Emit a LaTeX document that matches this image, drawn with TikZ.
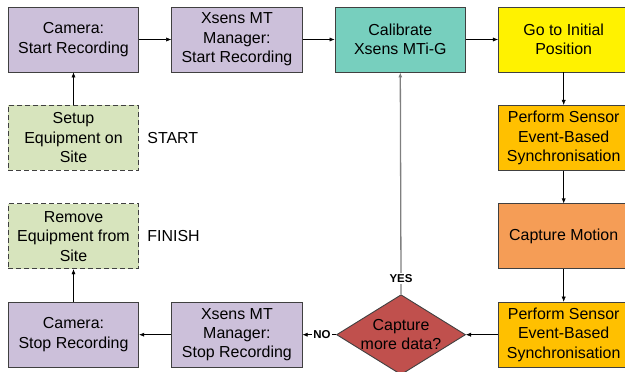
\documentclass[tikz,border=0pt]{standalone}
\usepackage{fontspec}
\setmainfont{Liberation Sans}
\usetikzlibrary{positioning,arrows.meta,shapes.geometric}
\definecolor{camlilac}{HTML}{CCC0DA}
\definecolor{calteal}{HTML}{77CFBE}
\definecolor{syncorange}{HTML}{FFC000}
\definecolor{motionorange}{HTML}{F59D56}
\definecolor{decred}{HTML}{C0504D}
\definecolor{sitegreen}{HTML}{D7E4BD}
\definecolor{edgegray}{HTML}{404040}
\definecolor{yesgray}{HTML}{7F7F7F}
\tikzset{
  stepbox/.style={draw=edgegray,line width=0.9pt,minimum width=130.5bp,minimum height=65bp,
    inner sep=0pt,align=center,font=\fontsize{16}{19.5}\selectfont},
  sitebox/.style={stepbox,dash pattern=on 5bp off 3bp,fill=sitegreen},
  decision/.style={diamond,draw=edgegray,line width=0.9pt,fill=decred,aspect=1.6,inner sep=-1.5bp,
    minimum width=129bp,minimum height=80bp,align=center,font=\fontsize{16}{19.5}\selectfont},
  tag/.style={font=\fontsize{16}{19.5}\selectfont,inner sep=0pt},
  answer/.style={font=\fontsize{11.5}{13}\selectfont\bfseries,fill=white,inner sep=1.5pt},
}
\begin{document}
\begin{tikzpicture}[>={Latex[length=5bp,width=4bp]},node distance=32.5bp and 32bp]
\useasboundingbox (-73.5bp,39.5bp) rectangle (551.5bp,-332.5bp);
\node[stepbox,fill=camlilac] (cam1) {Camera:\\Start Recording};
\node[stepbox,fill=camlilac] (xs1) [right=of cam1] {Xsens MT\\Manager:\\Start Recording};
\node[stepbox,fill=calteal] (calib) [right=of xs1] {Calibrate\\Xsens MTi-G};
\node[stepbox,fill=yellow] (go) [right=of calib] {Go to Initial\\Position};
\node[stepbox,fill=syncorange] (sync1) [below=of go] {Perform Sensor\\Event-Based\\Synchronisation};
\node[stepbox,fill=motionorange] (capt) [below=of sync1] {Capture Motion};
\node[stepbox,fill=syncorange] (sync2) [below=of capt] {Perform Sensor\\Event-Based\\Synchronisation};
\node[decision] (more) [left=of sync2] {Capture\\more data?};
\node[sitebox] (setup) [below=of cam1] {Setup\\Equipment on\\Site};
\node[sitebox] (remove) [below=of setup] {Remove\\Equipment from\\Site};
\node[stepbox,fill=camlilac] (cam2) [below=of remove] {Camera:\\Stop Recording};
\node[stepbox,fill=camlilac] (xs2) [right=of cam2] {Xsens MT\\Manager:\\Stop Recording};
\node[tag] (start) [right=8bp of setup] {START};
\node[tag] (finish) [right=8bp of remove] {FINISH};
% connectors
\draw[->] (setup) -- (cam1);
\draw[->] (cam1) -- (xs1);
\draw[->] (xs1) -- (calib);
\draw[->] (calib) -- (go);
\draw[->] (go) -- (sync1);
\draw[->] (sync1) -- (capt);
\draw[->] (capt) -- (sync2);
\draw[->] (sync2) -- (more);
\draw[->,yesgray,line width=1.3pt] (more.north) -- (calib.south) node[answer,pos=0.07,text=black]{YES};
\draw[->] (more.west) -- (xs2.east) node[answer,pos=0.42]{NO};
\draw[->] (xs2) -- (cam2);
\draw[->] (cam2) -- (remove);
\end{tikzpicture}
\end{document}
